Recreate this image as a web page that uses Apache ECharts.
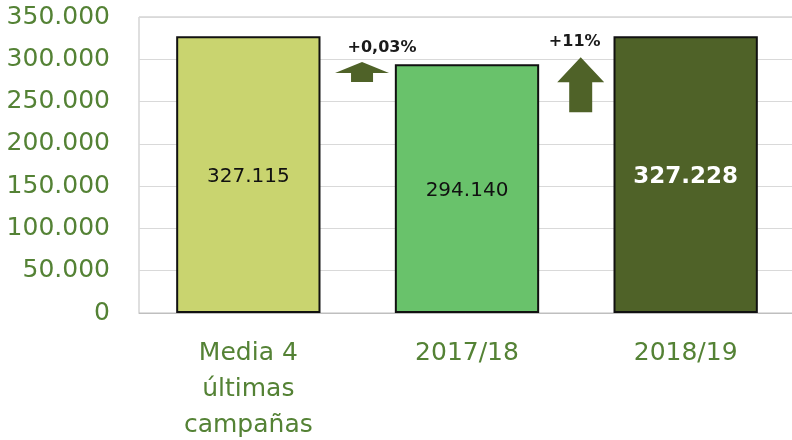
<!DOCTYPE html>
<html>
<head>
<meta charset="utf-8">
<script src="https://cdn.jsdelivr.net/npm/echarts@6/dist/echarts.min.js"></script>
<style>
  html, body { margin: 0; padding: 0; background: #fff; }
  #chart { width: 792px; height: 440px; }
</style>
</head>
<body>
<div id="chart"></div>
<script>
// datos
const categories = ['Media 4\núltimas\ncampañas', '2017/18', '2018/19'];
const values = [327115, 294140, 327228];
const yTicks = [0, 50000, 100000, 150000, 200000, 250000, 300000, 350000];
const changeLabels = ['+0,03%', '+11%'];
const arrowLevels = [285000, 270000];

const barColors = ['#c9d46f', '#69c26b', '#4f6228'];
const green = '#548235';

const fmt = (v) => String(Math.round(v)).replace(/\B(?=(\d{3})+(?!\d))/g, '.');

// flechas (corta y ancha / alta)
const arrowShort = 'path://M0,11 L27,0 L54,11 L38,11 L38,20 L16,20 L16,11 Z';
const arrowTall = 'path://M0,25 L23.5,0 L47,25 L35,25 L35,55 L12,55 L12,25 Z';

const chart = echarts.init(document.getElementById('chart'));

const option = {
  animation: false,
  textStyle: { fontFamily: 'DejaVu Sans' },
  grid: {
    left: 139,
    top: 17,
    width: 656,
    height: 296,
    outerBoundsMode: 'none',
    containLabel: false,
    show: true,
    borderColor: '#bfbfbf',
    borderWidth: 1,
  },
  xAxis: [
    {
      type: 'category',
      data: categories,
      axisLine: { show: true, lineStyle: { color: '#bfbfbf', width: 1 } },
      axisTick: { show: false },
      axisLabel: {
        color: green,
        fontSize: 25,
        lineHeight: 36,
        margin: 22,
        interval: 0,
      },
    },
    {
      type: 'value',
      min: -0.5,
      max: 2.5,
      show: false,
    },
  ],
  yAxis: {
    type: 'value',
    min: yTicks[0],
    max: yTicks[yTicks.length - 1],
    interval: yTicks[1] - yTicks[0],
    axisLine: { show: false },
    axisTick: { show: false },
    splitLine: { lineStyle: { color: '#d9d9d9', width: 1 } },
    axisLabel: {
      color: green,
      fontSize: 25,
      margin: 29,
      formatter: (v) => fmt(v),
    },
  },
  series: [
    {
      type: 'bar',
      barCategoryGap: '34%',
      data: values.map((v, i) => ({
        value: v,
        itemStyle: { color: barColors[i] },
        label: i === 2
          ? { color: '#ffffff', fontWeight: 'bold', fontSize: 23 }
          : { color: '#111111', fontSize: 20 },
      })),
      itemStyle: { borderColor: '#111111', borderWidth: 2 },
      label: {
        show: true,
        position: 'inside',
        offset: [0, 2],
        formatter: (p) => fmt(p.value),
      },
    },
    {
      type: 'scatter',
      xAxisIndex: 1,
      symbolKeepAspect: false,
      itemStyle: { color: '#4f6228', opacity: 1 },
      data: arrowLevels.map((y, i) => ({
        value: [i + 0.52, y],
        symbol: i === 0 ? arrowShort : arrowTall,
        symbolSize: i === 0 ? [54, 20] : [47, 55],
        label: {
          show: true,
          position: 'top',
          distance: i === 0 ? 6 : 7,
          offset: i === 0 ? [20, 0] : [-6, 0],
          formatter: changeLabels[i],
          color: '#1a1a1a',
          fontWeight: 'bold',
          fontSize: 16,
        },
      })),
    },
  ],
};

chart.setOption(option);
</script>
</body>
</html>
